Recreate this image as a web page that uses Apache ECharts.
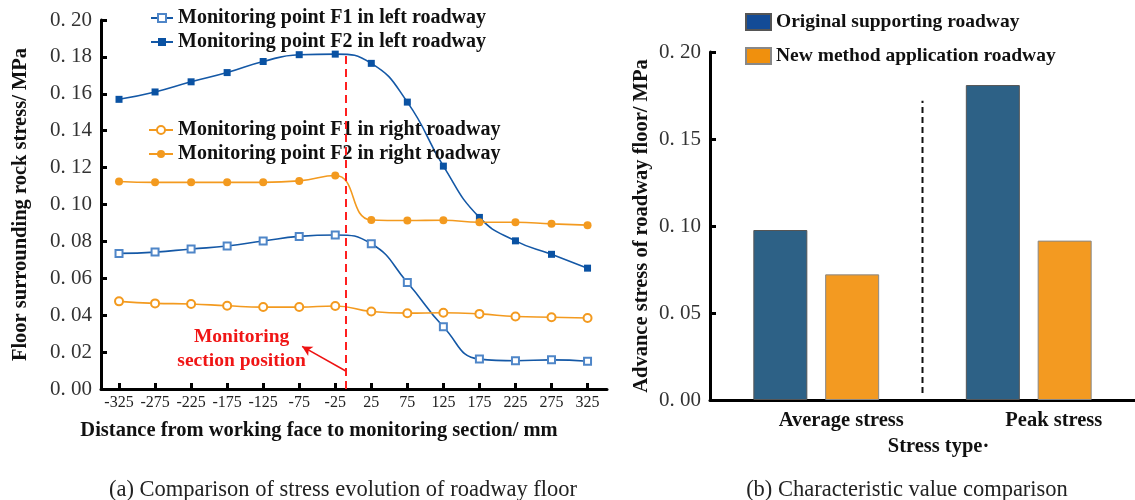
<!DOCTYPE html>
<html>
<head>
<meta charset="utf-8">
<script src="https://cdn.jsdelivr.net/npm/echarts@6/dist/echarts.min.js"></script>
<style>
html, body { margin: 0; padding: 0; background: #fff; }
#chart { width: 1135px; height: 500px; }
</style>
</head>
<body>
<div id="chart"></div>
<script>
// (a) 距离工作面 / mm
var distances = [-325, -275, -225, -175, -125, -75, -25, 25, 75, 125, 175, 225, 275, 325];
var leftF1  = [0.0735, 0.0742, 0.0759, 0.0775, 0.0802, 0.0827, 0.0835, 0.0787, 0.0577, 0.0337, 0.0162, 0.0153, 0.0158, 0.0150];
var leftF2  = [0.1570, 0.1610, 0.1665, 0.1715, 0.1775, 0.1812, 0.1815, 0.1765, 0.1555, 0.1208, 0.0930, 0.0803, 0.0730, 0.0655];
var rightF1 = [0.0475, 0.0464, 0.0461, 0.0451, 0.0444, 0.0444, 0.0450, 0.0420, 0.0411, 0.0413, 0.0407, 0.0393, 0.0389, 0.0385];
var rightF2 = [0.1125, 0.1120, 0.1120, 0.1120, 0.1120, 0.1128, 0.1157, 0.0916, 0.0913, 0.0915, 0.0904, 0.0904, 0.0895, 0.0888];
var sectionX = -10;          // monitoring section marker
var sectionTop = 0.181;

// (b) 特征值对比
var stressTypes = ['Average stress', 'Peak stress'];
var originalRoadway = [0.0977, 0.1810];
var newMethodRoadway = [0.0722, 0.0916];
var dividerRange = [0.004, 0.172];

var serif = 'Liberation Serif';
function pairs(vals) {
    return distances.map(function (d, i) { return [d, vals[i]]; });
}
function tickFmt(v) {
    return v.toFixed(2).replace('.', '. ');
}
var boldText = { fontFamily: serif, fontWeight: 'bold', fontSize: 20.5, color: '#111' };
var axisLine = { show: true, onZero: false, lineStyle: { color: '#000', width: 3 } };
var axisTick = { show: true, inside: true, length: 6, lineStyle: { color: '#000', width: 3 } };

var myChart = echarts.init(document.getElementById('chart'));
myChart.setOption({
    animation: false,
    backgroundColor: '#fff',
    textStyle: { fontFamily: serif },
    title: [
        { text: '(a) Comparison of stress evolution of roadway floor', left: 338, top: 474, textAlign: 'center',
          textStyle: { fontFamily: serif, fontWeight: 'normal', fontSize: 22.5, color: '#222' } },
        { text: '(b) Characteristic value comparison', left: 902, top: 474, textAlign: 'center',
          textStyle: { fontFamily: serif, fontWeight: 'normal', fontSize: 22.5, color: '#222' } }
    ],
    legend: [
        { data: ['Monitoring point F1 in left roadway', 'Monitoring point F2 in left roadway'],
          orient: 'vertical', left: 150, top: 8, padding: 0, itemGap: 4, itemWidth: 22, itemHeight: 10,
          textStyle: { fontFamily: serif, fontWeight: 'bold', fontSize: 20, color: '#111' } },
        { data: ['Monitoring point F1 in right roadway', 'Monitoring point F2 in right roadway'],
          orient: 'vertical', left: 148, top: 120, padding: 0, itemGap: 4, itemWidth: 24, itemHeight: 10,
          textStyle: { fontFamily: serif, fontWeight: 'bold', fontSize: 20, color: '#111' } },
        { data: [{ name: 'Original supporting roadway', itemStyle: { color: '#134b96' } },
                 { name: 'New method application roadway', itemStyle: { color: '#f0900d' } }],
          orient: 'vertical', left: 745, top: 12, padding: 0, itemGap: 14, itemWidth: 25, itemHeight: 16, icon: 'rect',
          textStyle: { fontFamily: serif, fontWeight: 'bold', fontSize: 19.5, color: '#111' } }
    ],
    grid: [
        { left: 101, top: 20, width: 506, height: 369 },
        { left: 710, top: 52, right: -7, height: 348 }
    ],
    xAxis: [
        { type: 'value', gridIndex: 0, min: -350, max: 352,
          name: 'Distance from working face to monitoring section/ mm', nameLocation: 'middle', nameGap: 31,
          nameTextStyle: Object.assign({ padding: [0, 70, 0, 0] }, boldText),
          axisLine: axisLine, splitLine: { show: false },
          axisTick: { show: true, inside: true, length: 6, lineStyle: { color: '#000', width: 3 }, customValues: distances },
          axisLabel: { customValues: distances, fontFamily: serif, fontSize: 16, color: '#222', margin: 6 } },
        { type: 'category', gridIndex: 1, data: stressTypes,
          name: 'Stress type·', nameLocation: 'middle', nameGap: 31,
          nameTextStyle: Object.assign({ padding: [0, 0, 0, 32] }, boldText),
          axisLine: axisLine, axisTick: { show: false },
          axisLabel: { fontFamily: serif, fontWeight: 'bold', fontSize: 20.5, color: '#111', margin: 10, padding: [0, 0, 0, 50] } },
        { type: 'value', gridIndex: 1, min: 0, max: 2, show: false }
    ],
    yAxis: [
        { type: 'value', gridIndex: 0, min: 0, max: 0.2, interval: 0.02,
          name: 'Floor surrounding rock stress/ MPa', nameLocation: 'middle', nameGap: 70,
          nameTextStyle: boldText,
          axisLine: axisLine, axisTick: axisTick, splitLine: { show: false },
          axisLabel: { formatter: tickFmt, fontFamily: serif, fontSize: 21, color: '#333', margin: 9 } },
        { type: 'value', gridIndex: 1, min: 0, max: 0.2, interval: 0.05,
          name: 'Advance stress of roadway floor/ MPa', nameLocation: 'middle', nameGap: 58,
          nameTextStyle: boldText,
          axisLine: axisLine, axisTick: axisTick, splitLine: { show: false },
          axisLabel: { formatter: tickFmt, fontFamily: serif, fontSize: 21, color: '#333', margin: 9 } }
    ],
    series: [
        { name: 'Monitoring point F1 in left roadway', type: 'line', xAxisIndex: 0, yAxisIndex: 0,
          data: pairs(leftF1), smooth: 0.5, symbol: 'emptyRect', symbolSize: 7,
          itemStyle: { color: '#4f86c8', borderWidth: 1.2 }, lineStyle: { color: '#1458a6', width: 1.6 } },
        { name: 'Monitoring point F2 in left roadway', type: 'line', xAxisIndex: 0, yAxisIndex: 0,
          data: pairs(leftF2), smooth: 0.5, symbol: 'rect', symbolSize: 7,
          itemStyle: { color: '#0a52a3' }, lineStyle: { color: '#1458a6', width: 1.6 } },
        { name: 'Monitoring point F1 in right roadway', type: 'line', xAxisIndex: 0, yAxisIndex: 0,
          data: pairs(rightF1), smooth: 0.5, symbol: 'emptyCircle', symbolSize: 8,
          itemStyle: { color: '#f39a1f', borderWidth: 1.2 }, lineStyle: { color: '#f39a1f', width: 1.6 } },
        { name: 'Monitoring point F2 in right roadway', type: 'line', xAxisIndex: 0, yAxisIndex: 0,
          data: pairs(rightF2), smooth: 0.5, symbol: 'circle', symbolSize: 8,
          itemStyle: { color: '#f39a1f' }, lineStyle: { color: '#f39a1f', width: 1.6 } },
        // 监测断面位置标注
        { name: 'section', type: 'line', xAxisIndex: 0, yAxisIndex: 0, data: [], silent: true,
          markLine: {
              silent: true, animation: false,
              label: { show: false },
              data: [
                  [{ coord: [sectionX, 0], symbol: 'none', lineStyle: { color: '#ff1f1f', width: 2, type: [8, 5] } },
                   { coord: [sectionX, sectionTop], symbol: 'none' }],
                  [{ coord: [-11, 0.0099], symbol: 'none', lineStyle: { color: '#ee1111', width: 1.5, type: 'solid' } },
                   { coord: [-71, 0.0231], symbol: 'arrow', symbolSize: [8, 10] }]
              ]
          },
          markPoint: {
              silent: true, symbol: 'circle', symbolSize: 1,
              itemStyle: { color: 'rgba(0,0,0,0)' },
              data: [{ coord: [-155, 0.0218], value: 0,
                  label: { show: true, position: 'inside', formatter: 'Monitoring\nsection position',
                           fontFamily: serif, fontWeight: 'bold', fontSize: 19.5, lineHeight: 24,
                           color: '#f01515', align: 'center', verticalAlign: 'middle' } }]
          } },
        { name: 'Original supporting roadway', type: 'bar', xAxisIndex: 1, yAxisIndex: 1,
          data: originalRoadway, barWidth: 54, barGap: '33%',
          itemStyle: { color: '#2d6186', borderColor: '#555', borderWidth: 1 } },
        { name: 'New method application roadway', type: 'bar', xAxisIndex: 1, yAxisIndex: 1,
          data: newMethodRoadway, barWidth: 54, barGap: '33%',
          itemStyle: { color: '#f39a21', borderColor: '#888', borderWidth: 1 } },
        { name: 'divider', type: 'line', xAxisIndex: 2, yAxisIndex: 1,
          data: [[1, dividerRange[0]], [1, dividerRange[1]]], symbol: 'none', silent: true,
          lineStyle: { color: '#111', width: 2, type: [6, 4] } }
    ]
});
</script>
</body>
</html>
